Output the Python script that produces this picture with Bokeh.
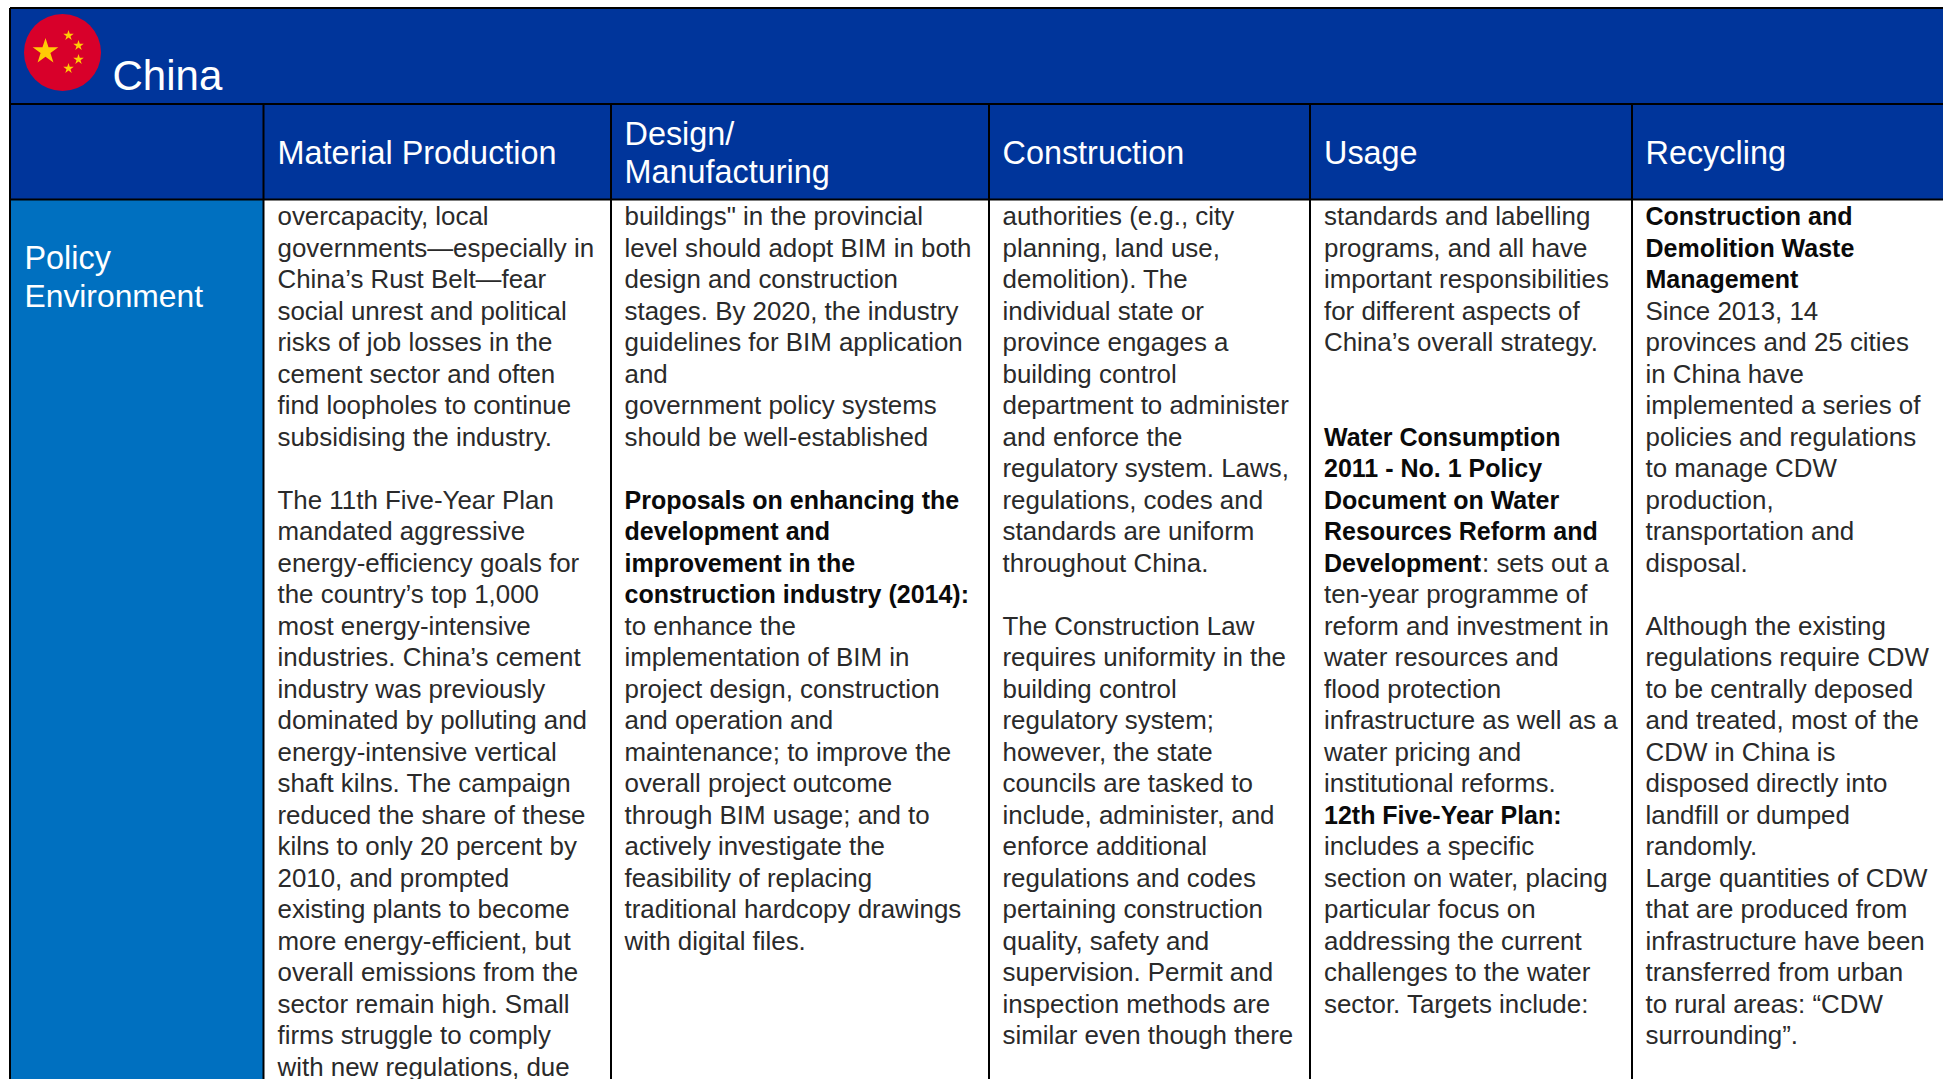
from bokeh.plotting import figure
from bokeh.models import Range1d
from bokeh.core.properties import value
from bokeh.embed import file_html
from bokeh.resources import INLINE

title = "China"
headers = ["Material Production", ["Design/", "Manufacturing"], "Construction", "Usage", "Recycling"]
row_label = ["Policy", "Environment"]

col1 = ["overcapacity, local", "governments\u2014especially in", "China\u2019s Rust Belt\u2014fear", "social unrest and political",
        "risks of job losses in the", "cement sector and often", "find loopholes to continue", "subsidising the industry.", "",
        "The 11th Five-Year Plan", "mandated aggressive", "energy-efficiency goals for", "the country\u2019s top 1,000",
        "most energy-intensive", "industries. China\u2019s cement", "industry was previously", "dominated by polluting and",
        "energy-intensive vertical", "shaft kilns. The campaign", "reduced the share of these", "kilns to only 20 percent by",
        "2010, and prompted", "existing plants to become", "more energy-efficient, but", "overall emissions from the",
        "sector remain high. Small", "firms struggle to comply", "with new regulations, due"]
col2 = ["buildings\" in the provincial", "level should adopt BIM in both", "design and construction",
        "stages. By 2020, the industry", "guidelines for BIM application", "and", "government policy systems",
        "should be well-established", "", "*Proposals on enhancing the", "*development and", "*improvement in the",
        "*construction industry (2014):", "to enhance the", "implementation of BIM in", "project design, construction",
        "and operation and", "maintenance; to improve the", "overall project outcome", "through BIM usage; and to",
        "actively investigate the", "feasibility of replacing", "traditional hardcopy drawings", "with digital files."]
col3 = ["authorities (e.g., city", "planning, land use,", "demolition). The", "individual state or", "province engages a",
        "building control", "department to administer", "and enforce the", "regulatory system. Laws,",
        "regulations, codes and", "standards are uniform", "throughout China.", "", "The Construction Law",
        "requires uniformity in the", "building control", "regulatory system;", "however, the state",
        "councils are tasked to", "include, administer, and", "enforce additional", "regulations and codes",
        "pertaining construction", "quality, safety and", "supervision. Permit and", "inspection methods are",
        "similar even though there"]
col4 = ["standards and labelling", "programs, and all have", "important responsibilities", "for different aspects of",
        "China\u2019s overall strategy.", "", "", "*Water Consumption", "*2011 - No. 1 Policy", "*Document on Water",
        "*Resources Reform and", "*Development|: sets out a", "ten-year programme of", "reform and investment in",
        "water resources and", "flood protection", "infrastructure as well as a", "water pricing and",
        "institutional reforms.", "*12th Five-Year Plan:", "includes a specific", "section on water, placing",
        "particular focus on", "addressing the current", "challenges to the water", "sector. Targets include:"]
col5 = ["*Construction and", "*Demolition Waste", "*Management", "Since 2013, 14", "provinces and 25 cities",
        "in China have", "implemented a series of", "policies and regulations", "to manage CDW", "production,",
        "transportation and", "disposal.", "", "Although the existing", "regulations require CDW",
        "to be centrally deposed", "and treated, most of the", "CDW in China is", "disposed directly into",
        "landfill or dumped", "randomly.", "Large quantities of CDW", "that are produced from",
        "infrastructure have been", "transferred from urban", "to rural areas: \u201cCDW", "surrounding\u201d."]
columns = [col1, col2, col3, col4, col5]

# layout in page pixels
W, H = 1943, 1079
xl = [9.5, 263, 610.5, 988.5, 1309.5, 1631.5]
yt = [7.5, 103.5, 199]
tx = [277, 624, 1002, 1323.5, 1645]
FONT = "Liberation Sans"
BODY = 25.9
BOLD = 25
HEAD = 32.4
PITCH = 31.5
FIRST = 225
NAVY = "#00359B"
BLUE = "#0070C0"
BASE = 0.365   # the svg text sits this many em below the requested y

p = figure(width=W, height=H, x_range=Range1d(0, W), y_range=Range1d(H, 0),
           toolbar_location=None, output_backend="svg", min_border=0,
           background_fill_color="white", border_fill_color="white",
           outline_line_color=None, tools="")
p.xaxis.visible = False
p.yaxis.visible = False
p.grid.visible = False

p.quad(left=[xl[0]], right=[W], top=[yt[0]], bottom=[yt[2]], fill_color=NAVY, line_color=None)
p.quad(left=[xl[0]], right=[xl[1]], top=[yt[2]], bottom=[H], fill_color=BLUE, line_color=None)

# grid lines
p.segment(x0=[xl[0]] * 3, y0=yt, x1=[W] * 3, y1=yt, line_color="black", line_width=2)
p.segment(x0=xl, y0=[yt[0]] + [yt[1]] * 5, x1=xl, y1=[H] * 6, line_color="black", line_width=2)

def put(x, y, s, size, color, bold=False):
    p.text(x=[x], y=[y - BASE * size], text=[s], text_font=value(FONT), text_font_size=f"{size}px",
           text_color=color, text_baseline="alphabetic", text_align="left",
           text_font_style="bold" if bold else "normal")

# flag
p.scatter(x=[62], y=[52], size=77, marker="circle", fill_color="#D8002A", line_color=None)
p.scatter(x=[45], y=[51], size=27, marker="star", fill_color="#FFCB05", line_color=None)
p.scatter(x=[68, 78, 78, 68], y=[35, 45, 59, 68], size=11, marker="star", fill_color="#FFCB05", line_color=None)

put(112, 90, title, 42, "white")

for i, h in enumerate(headers):
    if isinstance(h, list):
        put(tx[i], 145.5, h[0], HEAD, "white")
        put(tx[i], 183.5, h[1], HEAD, "white")
    else:
        put(tx[i], 164, h, HEAD, "white")

put(24, 269, row_label[0], HEAD, "white")
put(24, 307, row_label[1], 31.8, "white")

for i, col in enumerate(columns):
    for j, line in enumerate(col):
        if not line:
            continue
        y = FIRST + j * PITCH
        if line.startswith("*"):
            parts = line[1:].split("|")
            put(tx[i], y, parts[0], BOLD, "#0a0a0a", bold=True)
            if len(parts) > 1:
                put(tx[i] + 158, y, parts[1], BODY, "#2a2a2a")
        else:
            put(tx[i], y, line, BODY, "#2a2a2a")

open("out.html", "w").write(file_html(p, INLINE))
